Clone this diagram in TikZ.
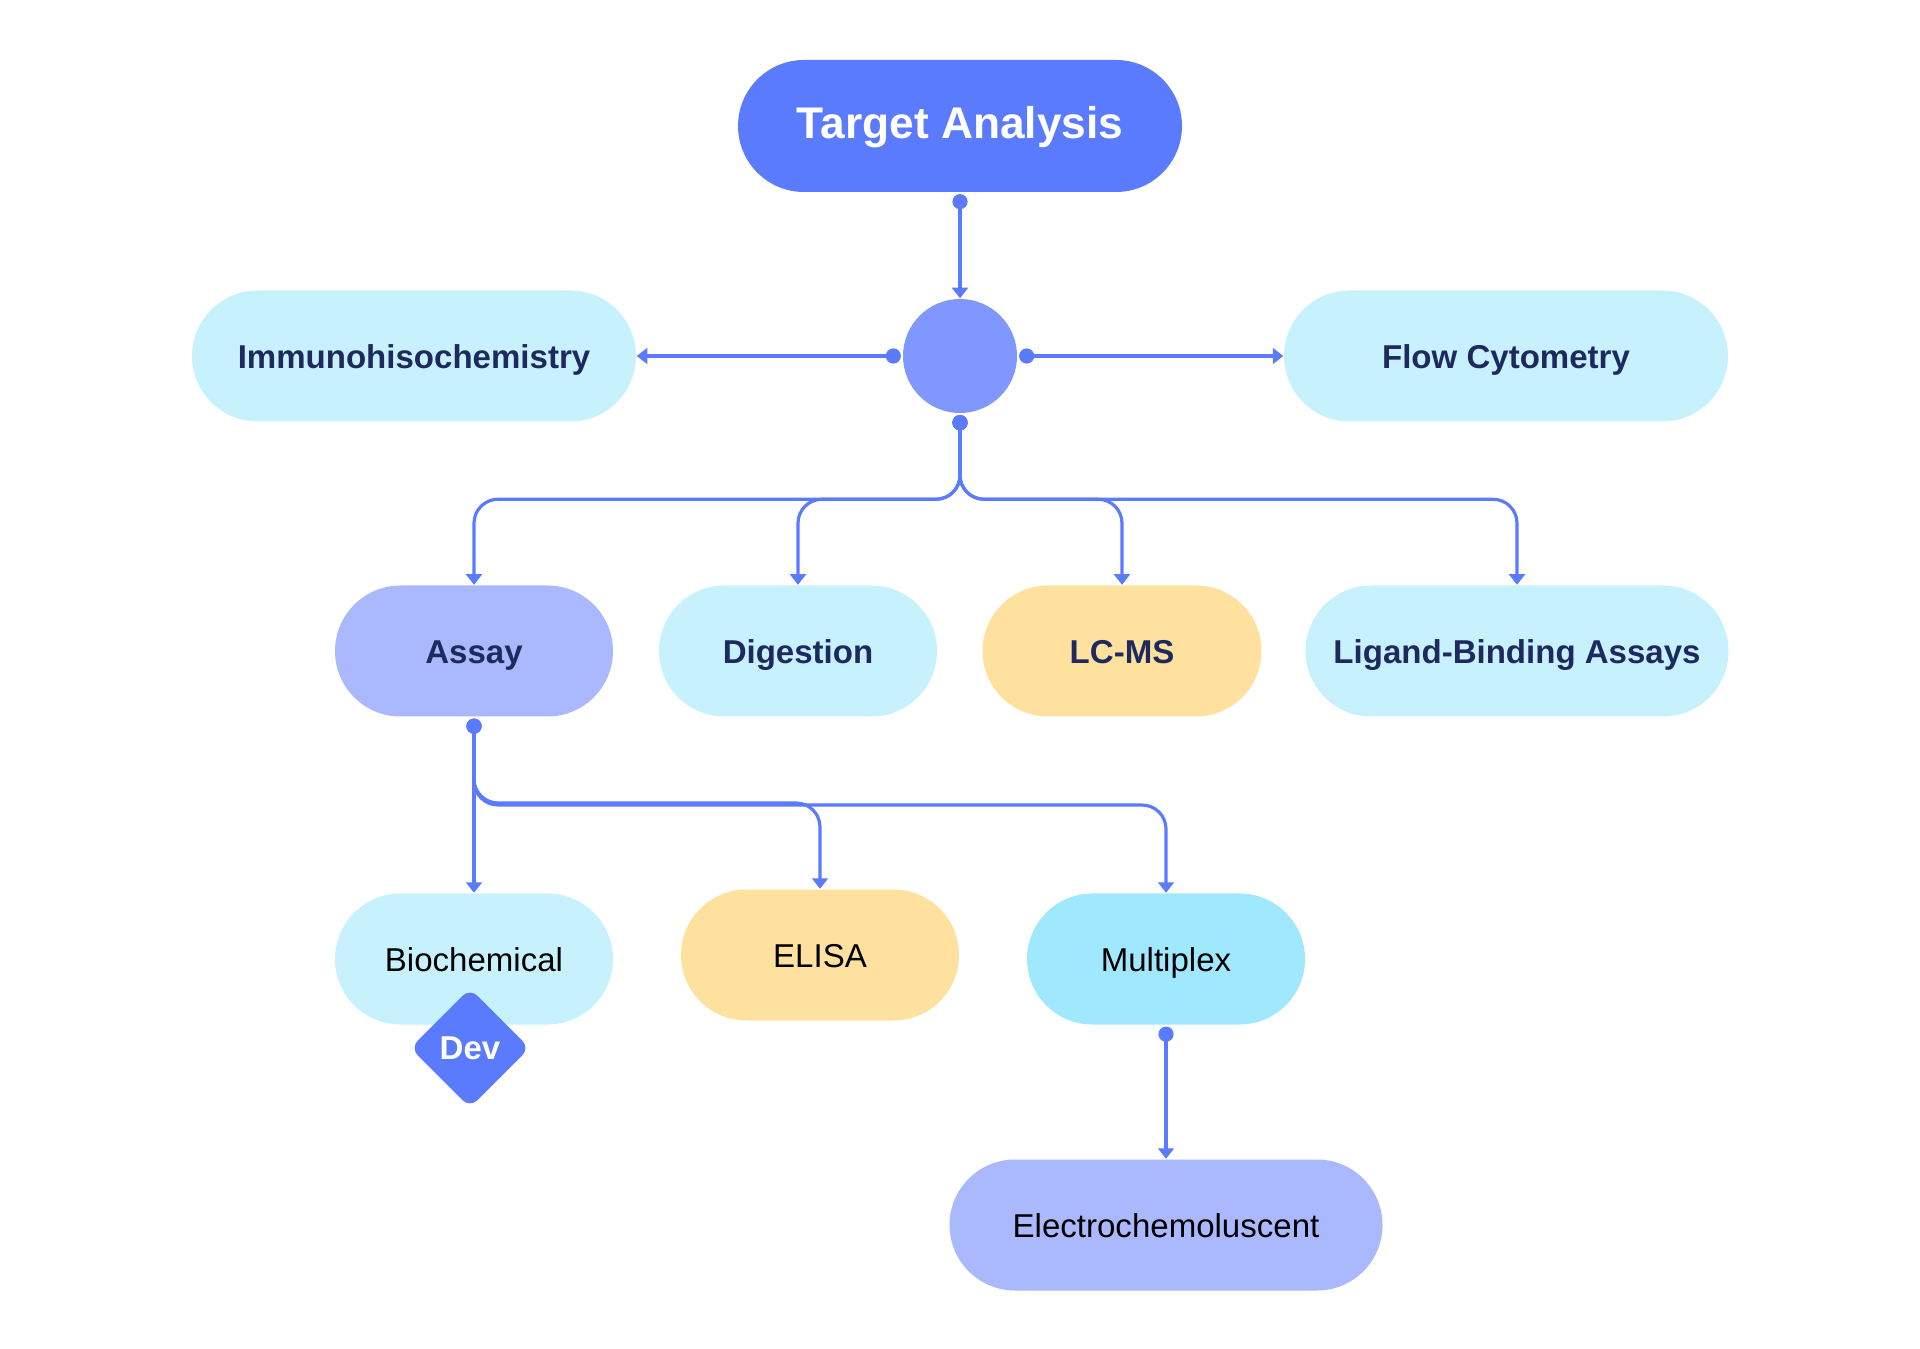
\documentclass[tikz,border=0pt]{standalone}
\usepackage{fontspec}
\setmainfont{Liberation Sans}
\usetikzlibrary{arrows.meta,calc,shapes.geometric}

\definecolor{tablue}{RGB}{91, 123, 254}
\definecolor{tahub}{RGB}{127, 151, 254}
\definecolor{tacyan}{RGB}{200, 241, 254}
\definecolor{taaqua}{RGB}{160, 232, 253}
\definecolor{talilac}{RGB}{170, 185, 254}
\definecolor{tasand}{RGB}{254, 224, 159}
\definecolor{tanavy}{RGB}{30, 42, 94}

\begin{document}
\begin{tikzpicture}[
    pill/.style={rectangle, rounded corners=0.655cm, minimum height=1.31cm,
      inner sep=0pt, text height=0.72em, text depth=0pt,
      font=\fontsize{9.4}{11}\selectfont},
    head/.style={pill, text=tanavy, font=\fontsize{9.4}{11}\selectfont\bfseries},
    link/.style={tablue, line width=0.9pt, rounded corners=0.24cm, shorten <=0.4pt,
      {Circle[length=4.3pt]}-{Triangle[width=4.5pt,length=3pt]}},
  ]
  \useasboundingbox (0,0) rectangle (19.2,-13.49);

  % top and hub
  \node[pill, fill=tablue, text=white, minimum width=4.44cm, minimum height=1.32cm,
    rounded corners=0.66cm, font=\fontsize{12.6}{15}\selectfont\bfseries]
    (target) at (9.60,-1.26) {Target Analysis};
  \node[circle, fill=tahub, minimum size=1.14cm, inner sep=0pt] (hub) at (9.60,-3.56) {};

  % side branches
  \node[head, fill=tacyan, minimum width=4.44cm] (immuno) at (4.14,-3.56) {Immunohisochemistry};
  \node[head, fill=tacyan, minimum width=4.44cm] (flow) at (15.06,-3.56) {Flow Cytometry};

  % methods row
  \node[head, fill=talilac, minimum width=2.78cm] (assay) at (4.74,-6.51) {Assay};
  \node[head, fill=tacyan, minimum width=2.78cm] (digest) at (7.98,-6.51) {Digestion};
  \node[head, fill=tasand, minimum width=2.79cm] (lcms) at (11.22,-6.51) {LC-MS};
  \node[head, fill=tacyan, minimum width=4.23cm] (ligand) at (15.17,-6.51) {Ligand-Binding Assays};

  % assay types
  \node[pill, fill=tacyan, minimum width=2.78cm] (biochem) at (4.74,-9.59) {Biochemical};
  \node[pill, fill=tasand, minimum width=2.78cm] (elisa) at (8.20,-9.55) {ELISA};
  \node[pill, fill=taaqua, minimum width=2.78cm] (multi) at (11.66,-9.59) {Multiplex};
  \node[pill, fill=talilac, minimum width=4.33cm] (electro) at (11.66,-12.25) {Electrochemoluscent};

  \node[diamond, fill=tablue, rounded corners=3pt, minimum width=1.2cm, minimum height=1.2cm,
    inner sep=0pt, text=white, font=\fontsize{9.4}{11}\selectfont\bfseries]
    (dev) at (4.70,-10.48) {Dev};

  % links
  \draw[link] (target.south) -- (hub.north);
  \draw[link] (hub.west) -- (immuno.east);
  \draw[link] (hub.east) -- (flow.west);
  \foreach \t in {assay, digest, lcms, ligand}
    \draw[link] (hub.south) -- ($(hub.south)!.5!(hub.south |- \t.north)$) -| (\t.north);
  \draw[link] (assay.south) -- (biochem.north);
  \foreach \t in {elisa, multi}
    \draw[link] (assay.south) -- ($(assay.south)!.5!(assay.south |- \t.north)$) -| (\t.north);
  \draw[link] (multi.south) -- (electro.north);
\end{tikzpicture}
\end{document}
